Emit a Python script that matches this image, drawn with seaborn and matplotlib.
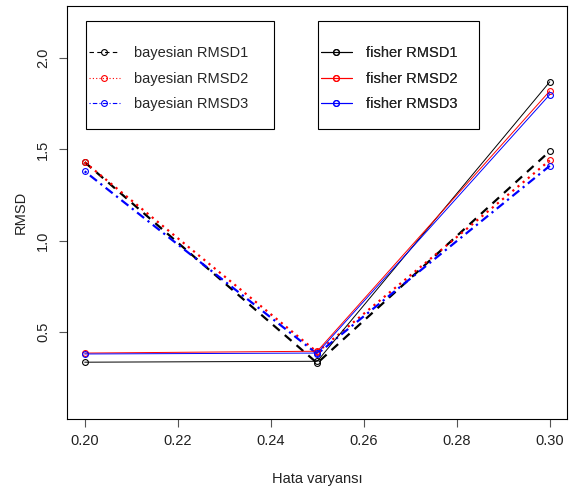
import matplotlib
matplotlib.use("Agg")
import matplotlib.pyplot as plt
from matplotlib.lines import Line2D
from matplotlib.patches import Rectangle
import seaborn as sns
import pandas as pd

# ---- data ----
hata_varyansi = [0.20, 0.25, 0.30]
bayesian_rmsd1 = [1.43, 0.33, 1.49]
bayesian_rmsd2 = [1.43, 0.39, 1.44]
bayesian_rmsd3 = [1.38, 0.38, 1.41]
fisher_rmsd1 = [0.335, 0.34, 1.87]
fisher_rmsd2 = [0.385, 0.395, 1.82]
fisher_rmsd3 = [0.38, 0.385, 1.80]

x_ticks = [0.20, 0.22, 0.24, 0.26, 0.28, 0.30]
y_ticks = [0.5, 1.0, 1.5, 2.0]

sns.set_style("ticks")
plt.rcParams["font.family"] = ["Liberation Sans", "DejaVu Sans"]
FS = 10.5

fig = plt.figure(figsize=(5.72, 4.94), dpi=100)
ax = fig.add_axes([67 / 572, 1 - 419 / 494, 500 / 572, 413 / 494])

series = [
    ("bayesian RMSD1", bayesian_rmsd1, "black", (0, (4, 3)), 1.6),
    ("bayesian RMSD2", bayesian_rmsd2, "red", (0, (1, 2)), 1.6),
    ("bayesian RMSD3", bayesian_rmsd3, "blue", (0, (1, 2, 4, 2)), 1.6),
    ("fisher RMSD1", fisher_rmsd1, "black", "-", 0.7),
    ("fisher RMSD2", fisher_rmsd2, "red", "-", 0.7),
    ("fisher RMSD3", fisher_rmsd3, "blue", "-", 0.7),
]

for name, vals, col, ls, lw in series:
    df = pd.DataFrame({"x": hata_varyansi, "y": vals})
    sns.lineplot(data=df, x="x", y="y", ax=ax, color=col, linestyle=ls,
                 linewidth=lw, marker="o", markersize=4.2,
                 markerfacecolor="none", markeredgecolor=col,
                 markeredgewidth=0.8, errorbar=None, legend=False)

ax.set_xlim(0.1962, 0.3037)
ax.set_ylim(0.024, 2.285)
ax.set_xticks(x_ticks)
ax.set_xticklabels([f"{v:.2f}" for v in x_ticks], fontsize=FS, color="#222222")
ax.set_yticks(y_ticks)
ax.set_yticklabels([f"{v:.1f}" for v in y_ticks], fontsize=FS, color="#222222",
                   rotation=90, va="center")
ax.tick_params(axis="both", direction="out", length=6, width=0.8,
               color="#555555")
ax.tick_params(axis="x", pad=5)
ax.tick_params(axis="y", pad=6)
ax.set_xlabel("Hata varyansı", fontsize=FS, color="#222222", labelpad=17)
ax.set_ylabel("RMSD", fontsize=FS, color="#222222", labelpad=6)
for sp in ax.spines.values():
    sp.set_visible(True)
    sp.set_color("black")
    sp.set_linewidth(0.8)

# legends
def handles(items):
    hs = []
    for name, vals, col, ls, lw in items:
        hs.append(Line2D([0], [0], color=col, linestyle=ls, linewidth=0.8,
                         marker="o", markersize=4.2, markerfacecolor="none",
                         markeredgecolor=col, markeredgewidth=0.8, label=name))
    return hs

def ax_fx(px):
    return (px - 67) / 500

def ax_fy(py):
    return (419 - py) / 413

for items, box in [(series[:3], (86, 274)), (series[3:], (318, 479))]:
    x0, x1 = box
    ax.add_patch(Rectangle((ax_fx(x0), ax_fy(129)), ax_fx(x1) - ax_fx(x0),
                           ax_fy(21) - ax_fy(129), transform=ax.transAxes,
                           fill=False, edgecolor="black", linewidth=0.8,
                           zorder=5))
    leg = ax.legend(handles=handles(items), loc="upper left",
                    bbox_to_anchor=(ax_fx(x0 + 3), ax_fy(46)),
                    frameon=False, fontsize=FS, borderpad=0,
                    borderaxespad=0, handlelength=2.1, handletextpad=1.0,
                    labelspacing=0.8, numpoints=1)
    ax.add_artist(leg)

fig.savefig("out.png", dpi=100)
